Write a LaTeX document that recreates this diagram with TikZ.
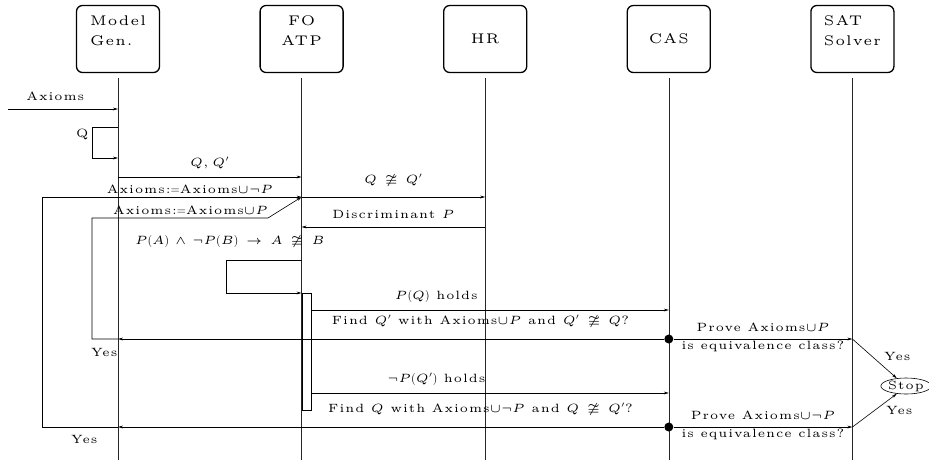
\documentclass[tikz,border=0pt]{standalone}
\usepackage{amsmath}
\usepackage{amssymb}
\usepackage{fontspec}
\setmainfont{lmroman5-regular.otf}[LetterSpace=8]
\usetikzlibrary{positioning, arrows.meta, shapes.geometric}
% small design size maths to go with the text
\DeclareFontShape{OML}{cmm}{m}{it}{<-> cmmi5}{}
\DeclareFontShape{OMS}{cmsy}{m}{n}{<-> cmsy5}{}
\DeclareFontFamily{U}{msb}{}
\DeclareFontShape{U}{msb}{m}{n}{<-> msbm5}{}
\thinmuskip=4mu
\medmuskip=6mu plus 2mu minus 4mu
\thickmuskip=8mu plus 5mu

\begin{document}
\begin{tikzpicture}[
  x=1pt, y=-1pt,
  node distance=99.3pt,
  >={Stealth[length=5pt,width=2.8pt]},
  font=\fontsize{12}{14}\selectfont,
  line width=0.6pt,
  actor/.style={draw, rounded corners=6pt, line width=1.3pt, minimum width=83pt, minimum height=67pt,
    align=center, font=\fontsize{14}{17}\selectfont},
  life/.style={draw=black!85},
  msglbl/.style={above=4.5pt},
  actbar/.style={draw, fill=white, minimum width=9pt, minimum height=117pt, inner sep=0pt},
  dot/.style={circle, fill, inner sep=0pt, minimum size=9pt},
  stopnode/.style={ellipse, draw, inner sep=0pt, minimum width=50pt, minimum height=16pt}
]
  \useasboundingbox (0,0) rectangle (929,464);

  \node[actor, align=left] (mg) at (118,39) {Model\\[3pt]Gen.\\[0pt]\mbox{}};
  \node[actor, right=of mg] (fo) {FO\\[3pt]ATP\\[0pt]\mbox{}};
  \node[actor, right=of fo] (hr) {HR};
  \node[actor, right=of hr] (cas) {CAS};
  \node[actor, right=of cas, align=left] (sat) {SAT\\[3pt]Solver\\[0pt]\mbox{}};

  \foreach \n in {mg,fo,hr,cas,sat}
    \draw[life] ([yshift=-5pt]\n.south) -- (\n |- 0,460);

  % input and first queries
  \coordinate (in) at (8,109);
  \draw[->] (in) -- node[msglbl, pos=.43] {Axioms} (mg |- in);
  \draw[->] (mg |- 0,127) -- (92,127) -- node[left, pos=.25] {Q} (92,158) -- (mg |- 0,158);
  \draw[->] (mg |- 0,177) -- node[msglbl] {$Q, Q'$} (fo |- 0,177);
  \draw[->] (fo |- 0,197) -- node[msglbl] {$Q \ncong Q'$} (hr |- 0,197);
  \draw[->] (hr |- 0,227) -- node[msglbl] {Discriminant $P$} (fo |- 0,227);
  \draw[->] (fo |- 0,260) -- node[above=7pt, pos=.95] {$P(A)\wedge\neg P(B)\rightarrow A\ncong B$} (226,260)
    -- (226,293) -- (fo |- 0,293);
  \node[actbar, anchor=north west] (act) at (fo |- 0,293) {};

  % P holds
  \draw[->] (act.east |- 0,310) -- node[above=4pt, pos=.35] {$P(Q)$ holds} (cas |- 0,310);
  \node[dot] (d1) at (cas |- 0,339) {};
  \draw[->] (d1) -- node[above=5.5pt, pos=.336] {Find $Q'$ with Axioms$\cup P$ and $Q'\ncong Q$?} (mg |- d1);
  \draw[->] (d1) -- node[above=3.5pt] {Prove Axioms$\cup P$} node[below=-1.5pt] {is equivalence class?} (sat |- d1);
  \coordinate (back1) at (mg |- d1);
  \draw[->] (back1) -- (92,339) -- (92,218) -- node[above, pos=.56] {Axioms:$=$Axioms$\cup P$} (268,218) -- (fo |- 0,197);
  \node[below left=6pt and -3pt of back1] {Yes};

  % not P holds
  \draw[->] (act.east |- 0,393) -- node[above=4pt, pos=.35] {$\neg P(Q')$ holds} (cas |- 0,393);
  \node[dot] (d2) at (cas |- 0,427) {};
  \draw[->] (d2) -- node[above=5.5pt, pos=.336] {Find $Q$ with Axioms$\cup\neg P$ and $Q\ncong Q'$?} (mg |- d2);
  \draw[->] (d2) -- node[above=3.5pt] {Prove Axioms$\cup\neg P$} node[below=-1.5pt] {is equivalence class?} (sat |- d2);
  \coordinate (back2) at (mg |- d2);
  \draw[->] (back2) -- (42,427) -- (42,197) -- node[above, pos=.57] {Axioms:$=$Axioms$\cup\neg P$} (fo |- 0,197);
  \node[below left=5pt and 17pt of back2] {Yes};

  % stop
  \node[stopnode] (stop) at (906,386) {Stop};
  \draw[->] (sat |- d1) -- node[pos=.45, right=8pt] {Yes} (stop.140);
  \draw[->] (sat |- d2) -- node[pos=.5, right=8pt] {Yes} (stop.220);
\end{tikzpicture}
\end{document}
